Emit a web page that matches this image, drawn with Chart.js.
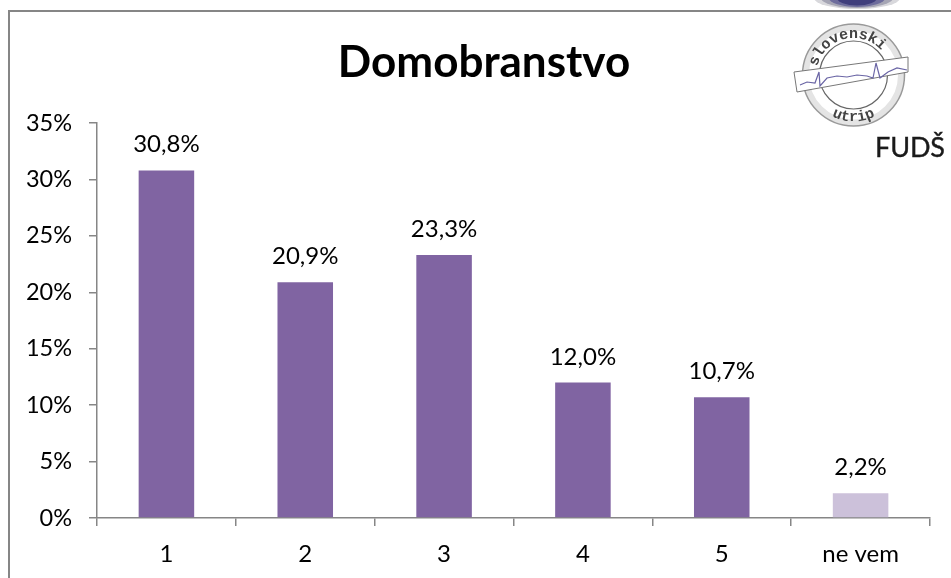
<!DOCTYPE html>
<html><head><meta charset="utf-8">
<style>
html,body{margin:0;padding:0;background:#fff;width:951px;height:578px;overflow:hidden}
#frame{position:absolute;left:8px;top:10px;width:1200px;height:800px;border:2px solid #868686;box-sizing:border-box}
#wrap{position:absolute;left:0;top:0;width:951px;height:578px}
#logo{position:absolute;left:0;top:0;pointer-events:none}
</style>
<script src="https://cdn.jsdelivr.net/npm/chart.js@4"></script>
</head><body>
<div id="frame"></div>
<div id="wrap"><canvas id="c" width="951" height="578"></canvas></div>
<svg id="logo" width="951" height="578" xmlns="http://www.w3.org/2000/svg">
<defs>
<path id="arcTop" d="M 817.500 84 A 37 37 0 0 1 889.500 66"/>
<path id="arcBot" d="M 820 107 A 46 46 0 0 0 887 107"/>
</defs>
<ellipse cx="857" cy="-2" rx="43" ry="11" fill="#d8d8dc"/>
<ellipse cx="857" cy="-2" rx="36" ry="10" fill="#a5a5b4"/>
<ellipse cx="857" cy="-2" rx="28" ry="9" fill="#6d6c9c"/>
<ellipse cx="857" cy="-2" rx="20" ry="7.500" fill="#3f3e7c"/>
<circle cx="853.500" cy="75" r="47.500" fill="none" stroke="#e4e4e4" stroke-width="6"/>
<circle cx="853.500" cy="75" r="51" fill="none" stroke="#999" stroke-width="1.500"/>
<circle cx="853.500" cy="75" r="34" fill="none" stroke="#666" stroke-width="1.200"/>
<text font-family="'Liberation Mono',monospace" font-size="15" font-weight="bold" fill="#444" text-anchor="middle"><textPath href="#arcTop" startOffset="50%">slovenski</textPath></text>
<text font-family="'Liberation Mono',monospace" font-size="15" font-weight="bold" fill="#444" text-anchor="middle"><textPath href="#arcBot" startOffset="50%">utrip</textPath></text>
<polygon points="794,72 908,57 908,72 797,92" fill="#fff" stroke="#777" stroke-width="1"/>
<polyline points="800,85 807,82 815,83 819,72 820,86 827,78 837,76 847,77 857,75 867,76 873,78 876,63 880,78 888,72 897,68 907,70" fill="none" stroke="#6a65a5" stroke-width="1.200"/>
<text x="875" y="157" font-family="Lato,sans-serif" font-size="27" fill="#1a1a1a" stroke="#1a1a1a" stroke-width=".4" textLength="70">FUDŠ</text>
</svg>
<script>
const titleText = "Domobranstvo";
const categories = ["1", "2", "3", "4", "5", "ne vem"];
const values = [30.8, 20.9, 23.3, 12.0, 10.7, 2.2];
const valueLabels = ["30,8%", "20,9%", "23,3%", "12,0%", "10,7%", "2,2%"];
const barColors = ["#8064A2", "#8064A2", "#8064A2", "#8064A2", "#8064A2", "#CCC1DA"];
const yTickMax = 35;
const yTickStep = 5;

const FONT = "Lato, Carlito, sans-serif";
const labelPlugin = {
  id: "valueLabels",
  afterLayout(chart) {
    if (chart.titleBlock) { chart.titleBlock.left += 19; chart.titleBlock.right += 19; }
  },
  afterDatasetsDraw(chart) {
    const ctx = chart.ctx, meta = chart.getDatasetMeta(0);
    ctx.save();
    ctx.font = "24px " + FONT;
    ctx.fillStyle = "#000";
    ctx.textAlign = "center";
    ctx.textBaseline = "alphabetic";
    meta.data.forEach((bar, i) => ctx.fillText(valueLabels[i], bar.x, bar.y - 18));
    ctx.restore();
  }
};

new Chart(document.getElementById("c"), {
  type: "bar",
  data: { labels: categories, datasets: [{ data: values, backgroundColor: barColors, borderWidth: 0,
    categoryPercentage: 1, barPercentage: 0.4 }] },
  options: {
    responsive: false, animation: false,
    layout: { padding: { left: 0, right: 21, top: 0, bottom: 0 } },
    plugins: {
      legend: { display: false }, tooltip: { enabled: false },
      title: { display: true, text: titleText, color: "#000",
        font: { family: FONT, size: 44, weight: "bold" },
        padding: { top: 36, bottom: 34.2 } }
    },
    scales: {
      x: {
        grid: { offset: true, drawOnChartArea: false, tickLength: 8, color: "#868686", lineWidth: 1.5 },
        border: { color: "#868686", width: 1.5 },
        ticks: { color: "#000", font: { family: FONT, size: 24 }, padding: 14, maxRotation: 0, autoSkip: false },
        afterFit(s) { s.height = 60; }
      },
      y: {
        min: 0, max: yTickMax,
        grid: { drawOnChartArea: false, tickLength: 8, color: "#868686", lineWidth: 1.5 },
        border: { color: "#868686", width: 1.5 },
        ticks: { stepSize: yTickStep, color: "#000", font: { family: FONT, size: 23.5 }, padding: 17,
          callback: v => v + "%" },
        afterFit(s) { s.width = 97; }
      }
    }
  },
  plugins: [labelPlugin]
});
</script>
</body></html>
